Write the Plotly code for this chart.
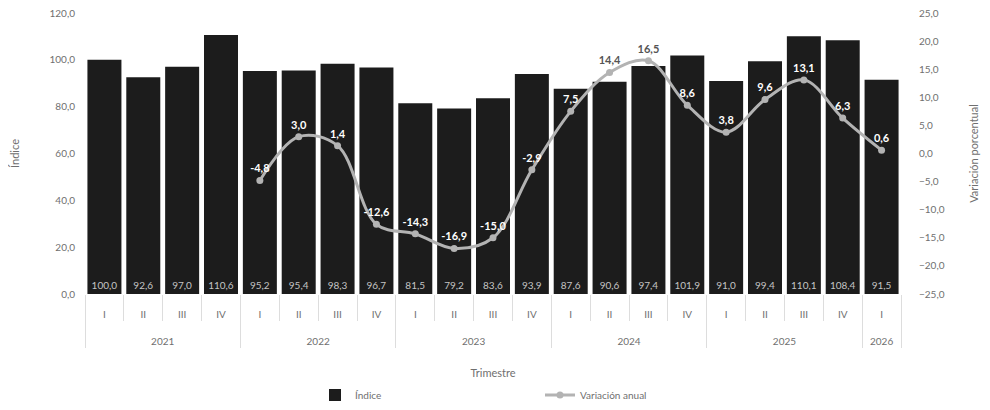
import plotly.graph_objects as go

years = ["2021"]*4 + ["2022"]*4 + ["2023"]*4 + ["2024"]*4 + ["2025"]*4 + ["2026"]
quarters = ["I", "II", "III", "IV"]*5 + ["I"]
indice = [100.0, 92.6, 97.0, 110.6, 95.2, 95.4, 98.3, 96.7, 81.5, 79.2, 83.6, 93.9,
          87.6, 90.6, 97.4, 101.9, 91.0, 99.4, 110.1, 108.4, 91.5]
variacion = [None, None, None, None, -4.8, 3.0, 1.4, -12.6, -14.3, -16.9, -15.0, -2.9,
             7.5, 14.4, 16.5, 8.6, 3.8, 9.6, 13.1, 6.3, 0.6]

FONT = "Lato"
GRAY = "#6f6f6f"

# inner labels padded with empty lines to push the year row down
quarter_labels = [q + "<br> <br> " for q in quarters]

bar_text = [f"{v:.1f}".replace(".", ",") for v in indice]
line_text = [("" if v is None else f"{v:.1f}".replace(".", ",")) for v in variacion]
line_text_colors = ["#ffffff"]*len(variacion)
line_text_colors[13] = "#555555"
line_text_colors[14] = "#555555"

fig = go.Figure()
fig.add_trace(go.Bar(
    x=[years, quarter_labels], y=indice, name="Índice",
    marker=dict(color="#1c1c1c", line=dict(width=0)),
    text=bar_text, textposition="inside", insidetextanchor="start",
    textangle=0, constraintext="none",
    textfont=dict(family=FONT, size=10, color="#c4c4c4"),
))
fig.add_trace(go.Scatter(
    x=[years, quarter_labels], y=variacion, name="Variación anual", yaxis="y2",
    mode="lines+markers+text",
    line=dict(color="#b3b3b3", width=3, shape="spline", smoothing=1.0),
    marker=dict(color="#b3b3b3", size=7),
    text=line_text, textposition="top center",
    textfont=dict(family=FONT, size=11, color=line_text_colors, weight="bold"),
    connectgaps=False,
))

fig.update_layout(
    width=990, height=410,
    margin=dict(l=77, r=97, t=5, b=124, autoexpand=False),
    paper_bgcolor="white", plot_bgcolor="white",
    separators=",.",
    font=dict(family=FONT, size=10, color=GRAY),
    bargap=0.125,
    showlegend=True,
    legend=dict(orientation="h", x=0.5576, xanchor="center", y=0.056, yanchor="middle",
                yref="container", font=dict(size=10, color=GRAY),
                entrywidth=180, itemwidth=30),
    xaxis=dict(
        type="multicategory", showgrid=False, showline=False, automargin=False,
        range=[-0.5, 20.5],
        ticks="outside", tickson="boundaries", ticklen=26, tickcolor="#dddddd",
        showdividers=True, dividercolor="#dddddd", dividerwidth=1,
        ticklabelstandoff=13,
        tickfont=dict(size=10, color=GRAY),
        title=dict(text="Trimestre", font=dict(size=11, color=GRAY), standoff=23),
    ),
    yaxis=dict(
        range=[0, 120], dtick=20, tickformat=".1f", showgrid=False, zeroline=False,
        showline=False, automargin=False, ticklabeloverflow="allow",
        ticklabelstandoff=9, tickfont=dict(size=10, color=GRAY),
        title=dict(text="Índice", font=dict(size=11, color=GRAY), standoff=28),
    ),
    yaxis2=dict(
        range=[-25, 25], dtick=5, tickformat=".1f", overlaying="y", side="right",
        showgrid=False, zeroline=False, showline=False, automargin=False,
        ticklabeloverflow="allow", ticklabelstandoff=17,
        tickfont=dict(size=10, color=GRAY),
        title=dict(text="Variación porcentual", font=dict(size=11, color=GRAY), standoff=26),
    ),
)

fig.write_html("out.html")
